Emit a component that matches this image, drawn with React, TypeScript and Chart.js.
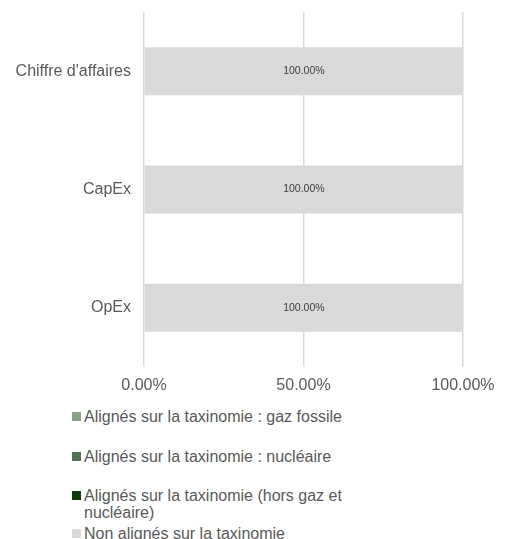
import React, { useEffect, useRef } from "react";
import { Chart, registerables } from "chart.js";

Chart.register(...registerables);

const categories = ["Chiffre d'affaires", "CapEx", "OpEx"];
const seriesNames = [
  "Alignés sur la taxinomie : gaz fossile",
  "Alignés sur la taxinomie : nucléaire",
  "Alignés sur la taxinomie (hors gaz et nucléaire)",
  "Non alignés sur la taxinomie",
];
const gazFossile = [0, 0, 0];
const nucleaire = [0, 0, 0];
const horsGazNucleaire = [0, 0, 0];
const nonAlignes = [100, 100, 100];
const xTickValues = [0, 50, 100];
const seriesColors = ["#87a287", "#4f7356", "#0b3a0b", "#d9d9d9"];

const FONT = "'Liberation Sans', Arial, sans-serif";

const dataLabelPlugin = {
  id: "dataLabels",
  afterDatasetsDraw(chart: any) {
    const ctx = chart.ctx;
    ctx.save();
    ctx.font = `10.5px ${FONT}`;
    ctx.fillStyle = "#404040";
    ctx.textAlign = "center";
    ctx.textBaseline = "middle";
    chart.data.datasets.forEach((ds: any, i: number) => {
      const meta = chart.getDatasetMeta(i);
      meta.data.forEach((el: any, j: number) => {
        const v = ds.data[j];
        if (!v) return;
        const p = el.getCenterPoint();
        ctx.fillText(v.toFixed(2) + "%", p.x, p.y);
      });
    });
    ctx.restore();
  },
};

export default function App() {
  const ref = useRef<HTMLCanvasElement>(null);
  useEffect(() => {
    document.documentElement.style.overflow = "hidden";
    if (!ref.current) return;
    const values = [gazFossile, nucleaire, horsGazNucleaire, nonAlignes];
    const chart = new Chart(ref.current, {
      type: "bar",
      data: {
        labels: categories,
        datasets: seriesNames.map((name, i) => ({
          label: name,
          data: values[i],
          backgroundColor: seriesColors[i],
          borderWidth: 0,
          categoryPercentage: 1,
          barPercentage: 0.405,
        })),
      },
      options: {
        indexAxis: "y",
        animation: false,
        responsive: true,
        maintainAspectRatio: false,
        layout: { padding: { top: 4, right: 34, left: 0, bottom: 0 } },
        plugins: { legend: { display: false }, tooltip: { enabled: false } },
        scales: {
          x: {
            stacked: true,
            min: 0,
            max: 100,
            afterBuildTicks: (scale: any) => {
              scale.ticks = xTickValues.map((v) => ({ value: v }));
            },
            afterFit: (scale: any) => {
              scale.height = 33;
              scale.paddingLeft = 0;
              scale.paddingRight = 0;
            },
            grid: { color: "#d9d9d9", lineWidth: 1.5, drawTicks: false },
            border: { display: false },
            ticks: {
              padding: 9,
              color: "#595959",
              font: { size: 16, family: FONT },
              callback: (v: any) => Number(v).toFixed(2) + "%",
            },
          },
          y: {
            stacked: true,
            afterFit: (scale: any) => {
              scale.width = 136;
              scale.paddingTop = 0;
              scale.paddingBottom = 0;
            },
            grid: { display: false, drawTicks: false },
            border: { display: false },
            ticks: {
              padding: 13,
              color: "#595959",
              font: { size: 16, family: FONT },
            },
          },
        },
      },
      plugins: [dataLabelPlugin],
    });
    return () => chart.destroy();
  }, []);

  const legendTops = [7.5, 47.5, 86.5, 124.5];

  return (
    <div
      style={{
        position: "relative",
        width: 489,
        height: 531,
        fontFamily: FONT,
      }}
    >
      <div style={{ position: "absolute", left: 0, top: 0, width: 489, height: 392 }}>
        <canvas ref={ref} />
      </div>
      {seriesNames.map((name, i) => (
        <div
          key={name}
          style={{
            position: "absolute",
            left: 64,
            top: 392 + legendTops[i],
            display: "flex",
            alignItems: "flex-start",
            fontSize: 16,
            lineHeight: "17px",
            color: "#595959",
          }}
        >
          <span
            style={{
              display: "inline-block",
              width: 9,
              height: 9,
              marginTop: 4,
              marginRight: 3,
              background: seriesColors[i],
              flex: "none",
            }}
          />
          <span style={{ maxWidth: 290 }}>{name}</span>
        </div>
      ))}
    </div>
  );
}
